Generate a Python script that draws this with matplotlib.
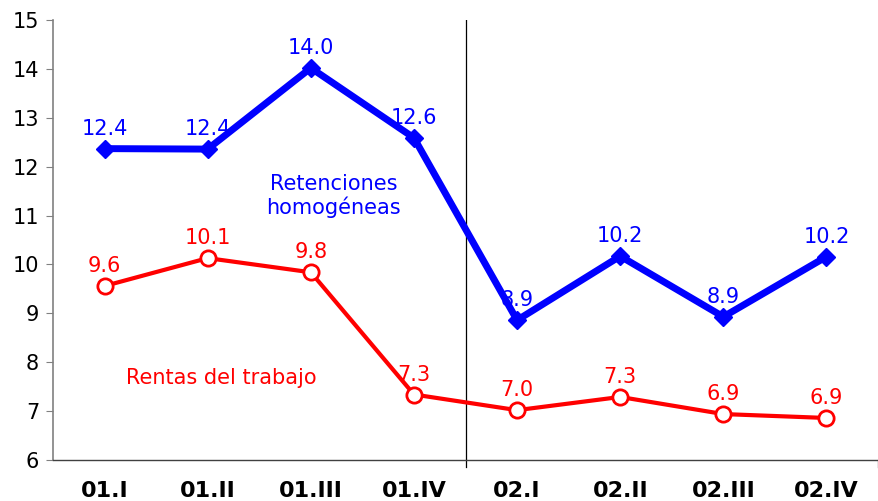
import matplotlib.pyplot as plt

categories = ["01.I", "01.II", "01.III", "01.IV", "02.I", "02.II", "02.III", "02.IV"]
retenciones = [12.37, 12.36, 14.02, 12.59, 8.86, 10.17, 8.93, 10.16]
rentas = [9.56, 10.13, 9.84, 7.34, 7.02, 7.29, 6.94, 6.86]

plt.rcParams['font.family'] = ['DejaVu Sans']

fig = plt.figure(figsize=(8.79, 5.01), dpi=100)
ax = fig.add_axes([0.0603, 0.0818, 0.9386, 0.8782])

x = list(range(len(categories)))

# lineas
ax.plot(x, retenciones, color='#0000FF', lw=5, marker='D', markersize=9,
        markeredgecolor='#0000FF', zorder=3)
ax.plot(x, rentas, color='#FF0000', lw=3, marker='o', markersize=11,
        markerfacecolor='white', markeredgecolor='#FF0000', markeredgewidth=2, zorder=4)

# etiquetas de datos
for xi, v in zip(x, retenciones):
    ax.annotate(f"{v:.1f}", (xi, v), xytext=(0, 10), textcoords='offset points',
                ha='center', va='baseline', color='#0000FF', fontsize=15, zorder=5)
for xi, v in zip(x, rentas):
    ax.annotate(f"{v:.1f}", (xi, v), xytext=(0, 10), textcoords='offset points',
                ha='center', va='baseline', color='#FF0000', fontsize=15, zorder=5)

ax.text(2.22, 11.4, "Retenciones\nhomogéneas", color='#0000FF', fontsize=15,
        ha='center', va='center', linespacing=1.1)
ax.text(1.13, 7.68, "Rentas del trabajo", color='#FF0000', fontsize=15,
        ha='center', va='center')

# linea vertical de separacion entre años
ax.plot([3.5, 3.5], [6, 15], color='black', lw=0.9, zorder=2)
ax.plot([3.5, 3.5], [6, 5.85], color='black', lw=0.9, clip_on=False)

ax.set_xlim(-0.5, 7.5)
ax.set_ylim(6, 15)
ax.set_yticks(range(6, 16))
ax.set_xticks(x)
ax.set_xticklabels(categories, fontsize=16, fontweight='bold')
ax.tick_params(axis='x', length=0, pad=15)
ax.tick_params(axis='y', labelsize=15, length=5, color='#808080', pad=5)

for side in ['top', 'right']:
    ax.spines[side].set_visible(False)
ax.spines['left'].set_color('#808080')
ax.spines['left'].set_linewidth(1.2)
ax.spines['bottom'].set_color('#404040')
ax.spines['bottom'].set_linewidth(1.0)
ax.plot([7.5, 7.5], [6, 5.85], color='#808080', lw=1, clip_on=False)

fig.savefig("out.png", dpi=100)
